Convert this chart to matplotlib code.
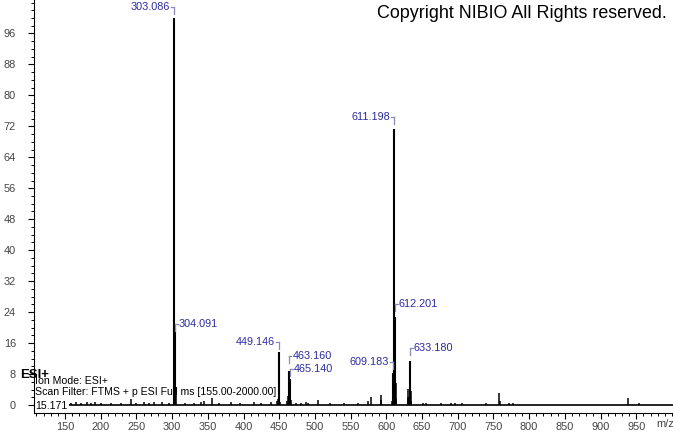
import matplotlib
matplotlib.use("Agg")
import matplotlib.pyplot as plt
from matplotlib.ticker import MultipleLocator

plt.rcParams["font.family"] = ["Liberation Sans", "DejaVu Sans"]

# main labelled peaks (m/z, relative abundance)
label_mz = [303.086, 304.091, 449.146, 463.160, 465.140, 609.183, 611.198, 612.201, 633.180]
label_int = [100.0, 20.0, 13.7, 8.9, 6.7, 8.3, 71.3, 22.7, 11.4]

# unlabelled peaks
minor_mz = [159, 166, 172, 181, 187, 192, 201, 215, 228, 242, 249, 260, 268, 275, 286, 295,
            302, 305, 318, 330, 340, 345, 356, 366, 382, 395, 414, 425, 439, 447, 448, 450, 451,
            461, 462, 464, 466, 473, 481, 487, 490, 504, 521, 541, 560, 575, 578, 592, 593,
            608, 610, 613, 614, 630, 631, 632, 634, 635, 651, 655, 676, 691, 696, 706, 740,
            758, 759, 772, 777, 938, 954]
minor_int = [0.6, 0.8, 0.5, 0.9, 0.6, 0.8, 0.5, 0.6, 0.5, 1.5, 0.6, 0.9, 0.5, 0.8, 0.7, 0.5,
             1.0, 3.0, 0.5, 0.6, 0.9, 1.0, 1.7, 0.6, 0.8, 0.5, 0.9, 0.5, 0.8, 1.0, 1.5, 3.2, 0.8,
             1.0, 2.2, 2.4, 1.3, 0.5, 0.6, 0.7, 0.6, 1.3, 0.5, 0.5, 0.6, 1.0, 2.1, 2.6, 1.2,
             1.0, 5.0, 5.7, 1.5, 2.0, 4.1, 2.0, 3.6, 1.0, 0.6, 0.6, 0.4, 0.5, 0.4, 0.4, 0.4,
             3.2, 1.0, 0.5, 0.6, 1.9, 0.4]

# label placement: text height (data units), side of peak
label_y = [102.8, 20.9, 16.3, 12.7, 9.3, 11.1, 74.5, 26.1, 14.7]
label_side = ["l", "r", "l", "r", "r", "l", "l", "r", "r"]

y_ticks = list(range(0, 97, 8))
x_ticks = list(range(150, 951, 50))

fig = plt.figure(figsize=(6.73, 4.33), dpi=100)
ax = fig.add_axes([34 / 673, 20.5 / 433, 1 - 34 / 673, 1 - 20.5 / 433])
ax.set_xlim(106.5, 1001.5)
ax.set_ylim(-1.94, 104.65)

ax.hlines(0, 155, 1001.5, color="black", lw=1.2)
ax.vlines(minor_mz, 0, minor_int, color="black", lw=1.1)
ax.vlines(label_mz, 0, label_int, color="black", lw=1.5)

lab_col = "#2b2ba0"
brk_col = "#8a8ab8"
dx = 4.0
for mz, inten, ly, side in zip(label_mz, label_int, label_y, label_side):
    txt = f"{mz:.3f}"
    drop = 1.8
    if side == "l":
        ax.plot([mz - dx, mz], [ly, ly], color=brk_col, lw=0.9)
        ax.plot([mz, mz], [ly, ly - drop], color=brk_col, lw=0.9)
        ax.text(mz - dx - 1.5, ly, txt, ha="right", va="center", color=lab_col, fontsize=7.8)
    else:
        ax.plot([mz, mz + dx], [ly, ly], color=brk_col, lw=0.9)
        ax.plot([mz, mz], [ly, ly - drop], color=brk_col, lw=0.9)
        ax.text(mz + dx + 1.5, ly, txt, ha="left", va="center", color=lab_col, fontsize=7.8)

ax.spines["top"].set_visible(False)
ax.spines["right"].set_visible(False)

ax.set_yticks(y_ticks)
ax.yaxis.set_minor_locator(MultipleLocator(2))
ax.set_xticks(x_ticks)
ax.xaxis.set_minor_locator(MultipleLocator(10))
ax.tick_params(axis="both", which="major", length=4, width=0.8, labelsize=7.9, labelcolor="#444444", direction="out")
ax.tick_params(axis="both", which="minor", length=2.5, width=0.7, direction="out")
ax.tick_params(axis="y", pad=9)
ax.tick_params(axis="x", pad=3)

fig.text(665 / 673, 1 - 424 / 433, "m/z", ha="center", va="center", fontsize=7.9, color="#444444")
fig.text(667 / 673, 1 - 14 / 433, "Copyright NIBIO All Rights reserved.", ha="right", va="center",
         fontsize=12.9, color="black")

fig.text(20 / 673, 1 - 375 / 433, "ESI+", ha="left", va="center", fontsize=9.5, fontweight="bold")
fig.text(35 / 673, 1 - 381 / 433, "Ion Mode: ESI+", ha="left", va="center", fontsize=7.6)
fig.text(35 / 673, 1 - 392 / 433, "Scan Filter: FTMS + p ESI Full ms [155.00-2000.00]", ha="left",
         va="center", fontsize=7.6)
fig.text(35 / 673, 1 - 406 / 433, "15.171", ha="left", va="center", fontsize=7.6)

fig.savefig("out.png", dpi=100)
